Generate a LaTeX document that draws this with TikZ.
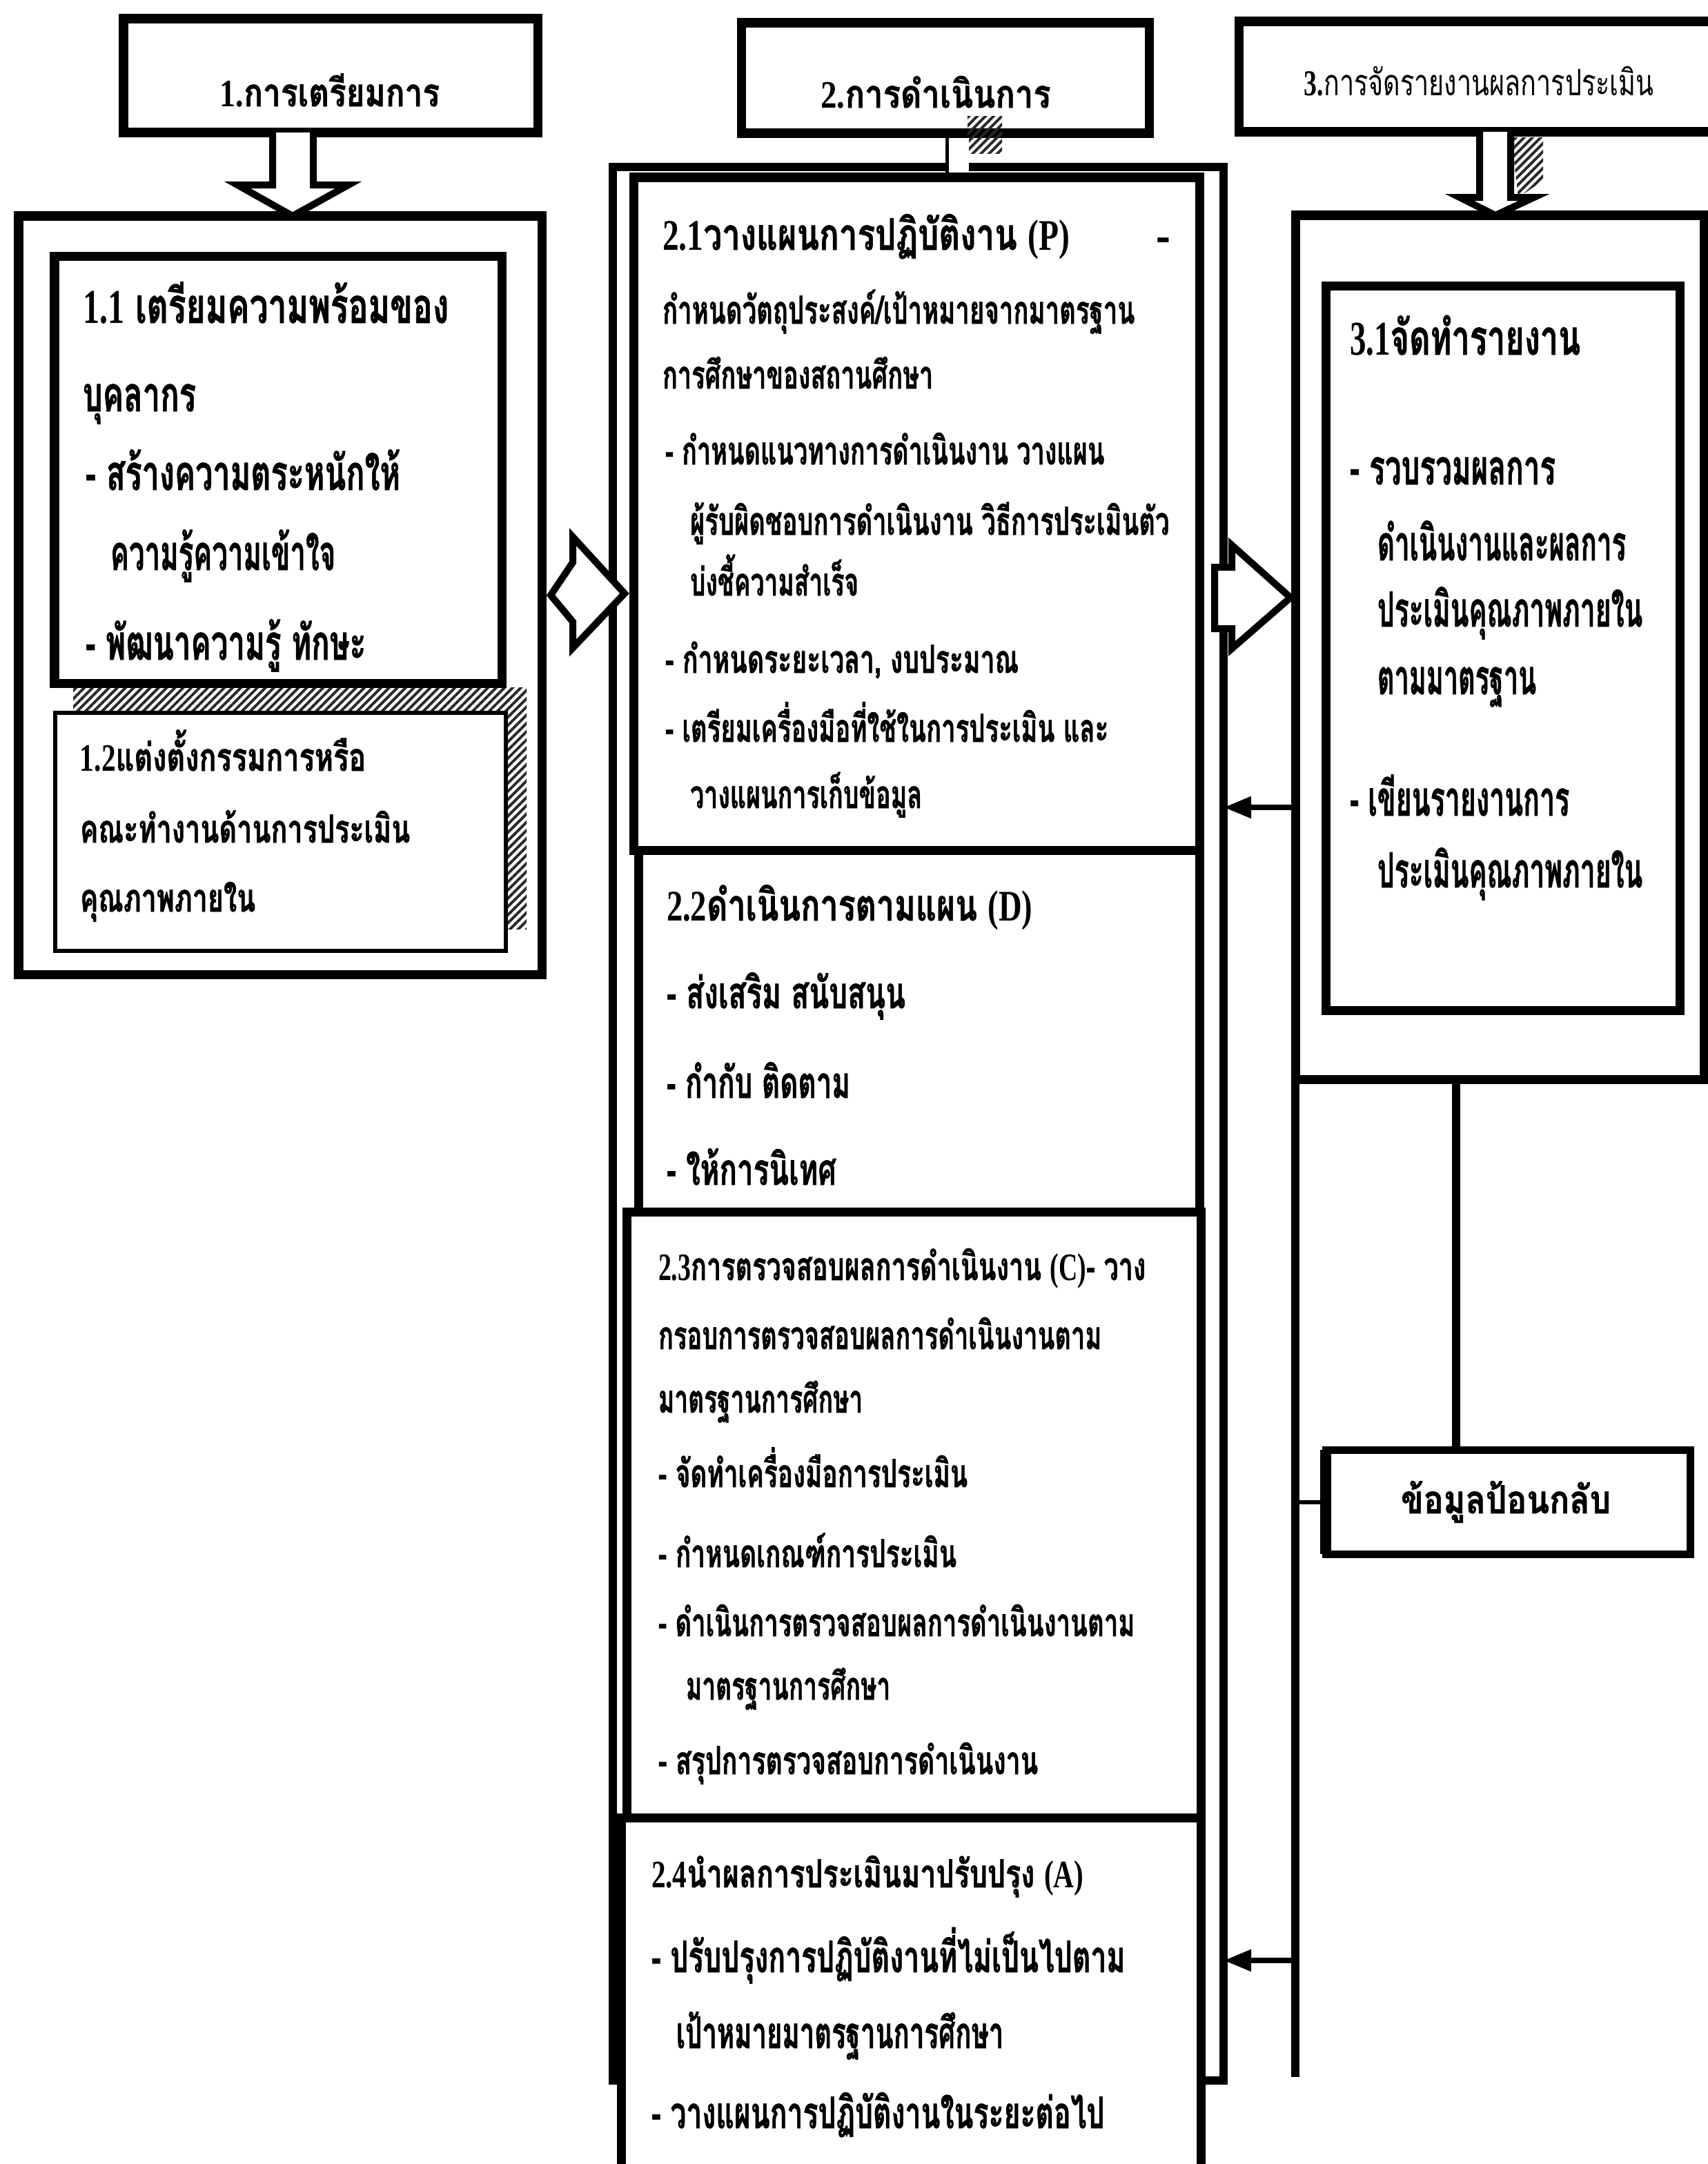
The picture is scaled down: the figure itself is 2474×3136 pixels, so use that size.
\documentclass[tikz,border=0pt]{standalone}
\usepackage{fontspec}
\usepackage{graphicx}
\usetikzlibrary{fit,patterns.meta,arrows.meta,calc}
\setmainfont{Liberation Serif}
\newfontfamily\thaif[Script=Thai, BoldFeatures={FakeBold=1.2}]{Loma}
\newfontfamily\latf{Liberation Serif}
\newcommand\lt[1]{{\latf\bfseries #1}}
\newcommand\tline[6][mid]{\node[#1] (#2) at (#3,#4) {\resizebox{#5cm}{\height}{#6}};}
\tikzset{
  tl/.style={anchor=base west, inner sep=0pt, outer sep=0pt},
  mid/.style={tl, font=\thaif\bfseries\fontsize{16}{18}\selectfont},
  sub/.style={tl, font=\thaif\bfseries\fontsize{18}{20}\selectfont},
  big/.style={tl, font=\thaif\bfseries\fontsize{20}{22}\selectfont},
  hdrtxt/.style={anchor=base, inner sep=0pt, font=\thaif\bfseries\fontsize{16}{18}\selectfont},
  hdrtxtl/.style={anchor=base, inner sep=0pt, font=\thaif\fontsize{15}{17}\selectfont},
  frame/.style={draw, line width=0.13cm, fill=white, inner sep=0pt, outer sep=0pt},
  thinframe/.style={draw, line width=0.06cm, fill=white, inner sep=0pt, outer sep=0pt},
  hatch/.style={pattern={Lines[angle=45,distance=2.4pt,line width=1.1pt]}, pattern color=black!85},
  blk/.style={draw, line width=0.10cm, fill=white, line join=miter},
  thk/.style={line width=0.12cm},
  arr/.style={line width=0.08cm, -{Triangle[length=0.40cm,width=0.30cm]}}
}
\begin{document}
\begin{tikzpicture}[x=0.01cm,y=-0.01cm]
\useasboundingbox (0,0) rectangle (2474,3136);
\fill[white] (0,0) rectangle (2474,3136);

% ---------- column 1 ----------
\node[frame, fit={(179,27) (779,192)}] (h1) {};
\node[hdrtxt] (h1t) at (478,154) {\resizebox{3.18cm}{\height}{\lt{1.}การเตรียมการ}};
\node[frame, fit={(27,313) (785,1412)}] (o1) {};
\draw[blk] (395,0 |- h1.south) -- (395,268) -- (344,268) -- (424,0 |- o1.north) -- (505,268) -- (454,268) -- (454,0 |- h1.south);
\fill[hatch] (106,996) rectangle (763,1346);
\node[frame, fit={(79,371) (727,990)}] (b11) {};
\node[thinframe, fit={(80,1033) (733,1378)}] (b12) {};

% ---------- column 2 ----------
\node[draw, thk, inner sep=0pt, outer sep=0pt, fit={(888,242) (1773,3015)}] (o2) {};
\node[frame, fit={(918,257) (1738,1232)}] (b21) {};
\node[frame, fit={(925,1232) (1738,1756)}] (b22) {};
\node[frame, fit={(908,1756) (1740,2634)}] (b23) {};
\node[frame, fit={(900,2634) (1740,3150)}] (b24) {};
\node[frame, fit={(1074,33) (1665,193)}] (h2) {};
\node[hdrtxt] (h2t) at (1356,156) {\resizebox{3.33cm}{\height}{\lt{2.}การดำเนินการ}};
\fill[hatch] (1402,168) rectangle (1452,222);
\node[fill=white, inner sep=0pt, outer sep=0pt, fit={(1372,200) (1404,250)}] (stub) {};
\draw[line width=0.05cm] (stub.north west) -- (stub.south west);

% arrows between columns
\draw[blk] ($(o1.east)+(13,0)$ |- 0,815) -- (830,815) -- (830,778) -- (905,860) -- (830,939) -- (830,901) -- ($(o1.east)+(13,0)$ |- 0,901) -- cycle;
\draw[blk] (1760,822) -- (1785,822) -- (1785,790) -- (1870,866) -- (1785,940) -- (1785,911) -- (1760,911) -- cycle;

% ---------- column 3 ----------
\node[frame, fit={(1795,31) (2500,191)}] (h3) {};
\node[hdrtxtl] (h3t) at (2143,138) {\resizebox{5.06cm}{\height}{\lt{3.}การจัดรายงานผลการประเมิน}};
\node[frame, fit={(1877,312) (2469,1564)}] (o3) {};
\fill[hatch] (2190,199) -- (2236,199) -- (2236,262) -- (2200,286) -- cycle;
\draw[blk] (2144,0 |- h3.south) -- (2144,286) -- (2115,286) -- (2167,0 |- o3.north) -- (2223,286) -- (2189,286) -- (2189,0 |- h3.south);
\node[frame, fit={(1921,414) (2434,1464)}] (b31) {};
\coordinate (o3ext) at (1877,3010);
\draw[thk] (o3.south west) -- (o3ext);
\node[frame, line width=0.11cm, fit={(1921,2101) (2449,2252)}] (fb) {};
\draw[line width=0.16cm] (fb.north west) -- (fb.south west);
\coordinate (fbc) at (2110,0);
\draw[thk] (o3.south -| fbc) -- (fb.north -| fbc);
\draw[line width=0.06cm] (fb.west) -- (fb.west -| o3.west);
\coordinate (fa1) at (1871,1170);
\coordinate (fa2) at (1871,2841);
\draw[arr] (fa1) -- (fa1 -| o2.east);
\draw[arr] (fa2) -- (fa2 -| o2.east);

% ---------- texts column 1 ----------
\tline[big]{t11a}{120}{468}{5.30}{\lt{1.1} เตรียมความพร้อมของ}
\tline[big]{t11b}{120}{596}{1.64}{บุคลากร}
\tline[big]{t11c}{124}{710}{4.56}{- สร้างความตระหนักให้}
\tline[big]{t11d}{160}{826}{3.26}{ความรู้ความเข้าใจ}
\tline[big]{t11e}{124}{956}{4.06}{- พัฒนาความรู้ ทักษะ}
\tline{t12a}{116}{1117}{4.14}{\lt{1.2}แต่งตั้งกรรมการหรือ}
\tline{t12b}{116}{1221}{4.78}{คณะทำงานด้านการประเมิน}
\tline{t12c}{116}{1321}{2.54}{คุณภาพภายใน}

% ---------- texts column 2 ----------
\tline[sub]{t21h}{960}{362}{5.90}{\lt{2.1}วางแผนการปฏิบัติงาน \lt{(P)}}
\node[mid] (t21dash) at (1676,362) {-};
\tline{t21a}{960}{469}{6.84}{กำหนดวัตถุประสงค์/เป้าหมายจากมาตรฐาน}
\tline{t21b}{960}{563}{3.92}{การศึกษาของสถานศึกษา}
\tline{t21c}{964}{673}{6.36}{- กำหนดแนวทางการดำเนินงาน วางแผน}
\tline{t21d}{1000}{775}{6.94}{ผู้รับผิดชอบการดำเนินงาน วิธีการประเมินตัว}
\tline{t21e}{1000}{863}{2.44}{บ่งชี้ความสำเร็จ}
\tline{t21f}{964}{975}{5.12}{- กำหนดระยะเวลา, งบประมาณ}
\tline{t21g}{964}{1075}{6.42}{- เตรียมเครื่องมือที่ใช้ในการประเมิน และ}
\tline{t21h2}{1000}{1171}{3.36}{วางแผนการเก็บข้อมูล}

\tline[sub]{t22h}{966}{1334}{5.30}{\lt{2.2}ดำเนินการตามแผน \lt{(D)}}
\tline[sub]{t22a}{966}{1461}{3.46}{- ส่งเสริม สนับสนุน}
\tline[sub]{t22b}{966}{1591}{2.66}{- กำกับ ติดตาม}
\tline[sub]{t22c}{966}{1717}{2.46}{- ให้การนิเทศ}

\tline{t23h}{954}{1855}{7.06}{\lt{2.3}การตรวจสอบผลการดำเนินงาน \lt{(C)}- วาง}
\tline{t23a}{954}{1955}{6.42}{กรอบการตรวจสอบผลการดำเนินงานตาม}
\tline{t23b}{954}{2047}{2.96}{มาตรฐานการศึกษา}
\tline{t23c}{954}{2155}{4.48}{- จัดทำเครื่องมือการประเมิน}
\tline{t23d}{954}{2271}{4.32}{- กำหนดเกณฑ์การประเมิน}
\tline{t23e}{954}{2371}{6.90}{- ดำเนินการตรวจสอบผลการดำเนินงานตาม}
\tline{t23f}{994}{2463}{2.96}{มาตรฐานการศึกษา}
\tline{t23g}{954}{2571}{5.50}{- สรุปการตรวจสอบการดำเนินงาน}

\tline{t24h}{944}{2735}{6.26}{\lt{2.4}นำผลการประเมินมาปรับปรุง \lt{(A)}}
\tline[sub]{t24a}{944}{2858}{6.86}{- ปรับปรุงการปฏิบัติงานที่ไม่เป็นไปตาม}
\tline[sub]{t24b}{980}{2968}{4.74}{เป้าหมายมาตรฐานการศึกษา}
\tline[sub]{t24c}{944}{3084}{6.56}{- วางแผนการปฏิบัติงานในระยะต่อไป}

% ---------- texts column 3 ----------
\tline[big]{t31h}{1956}{514}{3.34}{\lt{3.1}จัดทำรายงาน}
\tline[big]{t31a}{1956}{702}{2.98}{- รวบรวมผลการ}
\tline[big]{t31b}{1996}{812}{3.60}{ดำเนินงานและผลการ}
\tline[big]{t31c}{1996}{908}{3.84}{ประเมินคุณภาพภายใน}
\tline[big]{t31d}{1996}{1006}{2.30}{ตามมาตรฐาน}
\tline[big]{t31e}{1956}{1182}{3.18}{- เขียนรายงานการ}
\tline[big]{t31f}{1996}{1286}{3.84}{ประเมินคุณภาพภายใน}
\tline{tfb}{2030}{2193}{3.04}{ข้อมูลป้อนกลับ}
\end{tikzpicture}
\end{document}
